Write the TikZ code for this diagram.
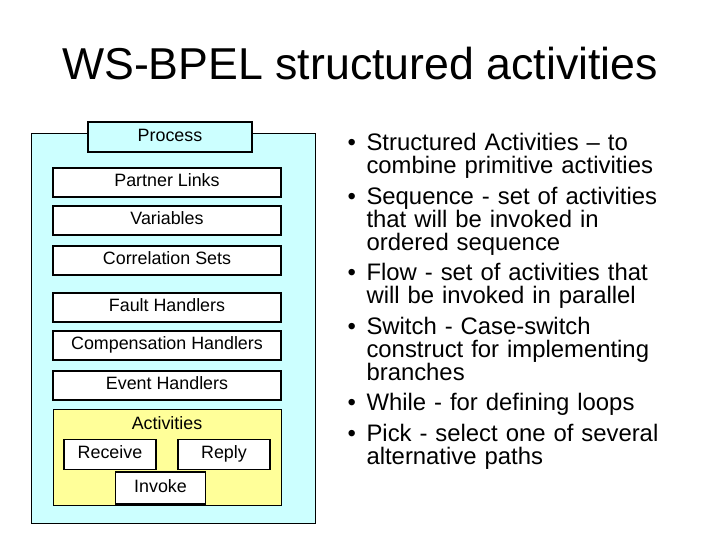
\documentclass[tikz,border=0pt]{standalone}
\usepackage{fontspec}
\setmainfont{Liberation Sans}
\usepackage{enumitem}
\usetikzlibrary{positioning}
\definecolor{procfill}{RGB}{204,255,255}
\definecolor{actfill}{RGB}{255,255,153}

\begin{document}
\begin{tikzpicture}[x=0.75pt, y=-0.75pt, every node/.style={
    rectangle,
    inner sep=0pt,
    draw,
    thick,
    fill=white,
    text height=9pt,
    text depth=2.5pt,
    font=\fontsize{13.4}{15}\selectfont
}]
    \useasboundingbox (0,0) rectangle (720,540);

    \node (title) [draw=none, fill=none, font=\fontsize{33.5}{38}\selectfont, text height=24pt, text depth=7pt] at (360,68)
    {
        WS-BPEL structured activities
    };

    \node (process_box) [fill=procfill, minimum width=213pt, minimum height=292.5pt, anchor=north west] at (31,133) {};

    \node (process) [fill=procfill, minimum width=123pt, minimum height=22.5pt] at (170,137)
    {
        Process
    };

    \node (partner_links) [minimum width=171pt, minimum height=21.75pt] at (167,182.5)
    {
        Partner Links
    };

    \node (variables) [minimum width=171pt, minimum height=21.75pt] at (167,220.5)
    {
        Variables
    };

    \node (correlation_sets) [minimum width=171pt, minimum height=21.75pt] at (167,260.5)
    {
        Correlation Sets
    };

    \node (fault_handlers) [minimum width=171pt, minimum height=21.75pt] at (167,307.5)
    {
        Fault Handlers
    };

    \node (compensation_handlers) [minimum width=171pt, minimum height=21.75pt] at (167,345.5)
    {
        Compensation Handlers
    };

    \node (event_handlers) [minimum width=171pt, minimum height=21.75pt] at (167,385.5)
    {
        Event Handlers
    };

    \node (activities_box) [fill=actfill, minimum width=171pt, minimum height=72pt, anchor=north west] at (53,409) {};

    \node (activities) [draw=none, fill=none] at (167,425)
    {
        Activities
    };

    \node (receive) [minimum width=69pt, minimum height=23pt] at (110,454.5)
    {
        Receive
    };

    \node (reply) [minimum width=69pt, minimum height=23pt] at (224,454.5)
    {
        Reply
    };

    \node (invoke) [minimum width=68pt, minimum height=24pt] at (160.5,488)
    {
        Invoke
    };

    \node (bullets) [draw=none, fill=none, anchor=north west, text width=320pt,
        text height=, text depth=, font=\fontsize{17.9}{17.3}\selectfont] at (340,127)
    {
        \begin{itemize}[leftmargin=19.5pt, labelsep=8pt, itemsep=5.5pt, topsep=0pt, parsep=0pt]
        \item Structured Activities -- to\\ combine primitive activities
        \item Sequence - set of activities\\ that will be invoked in\\ ordered sequence
        \item Flow - set of activities that\\ will be invoked in parallel
        \item Switch - Case-switch\\ construct for implementing\\ branches
        \item While - for defining loops
        \item Pick - select one of several\\ alternative paths
        \end{itemize}
    };
\end{tikzpicture}
\end{document}
